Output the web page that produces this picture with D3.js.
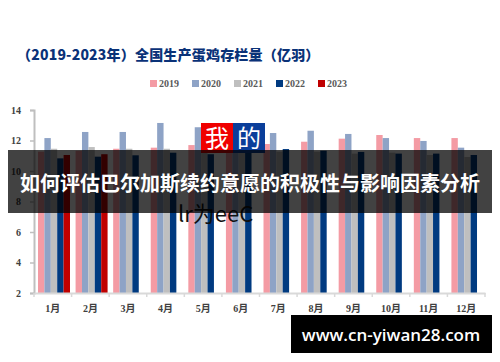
<!DOCTYPE html>
<html>
<head>
<meta charset="utf-8">
<script src="https://cdn.jsdelivr.net/npm/d3@7"></script>
<style>
  body { margin: 0; background: #fff; }
  svg { display: block; }
</style>
</head>
<body>
<div id="chart"></div>
<script>
// chart data
const months = ["1月","2月","3月","4月","5月","6月","7月","8月","9月","10月","11月","12月"];
const years = ["2019","2020","2021","2022","2023"];
const colors = ["#F49BA4","#8EA3C6","#BFBFBF","#003A80","#C00000"];
const v2019 = [11.27,11.33,11.46,11.53,11.70,11.66,11.77,11.92,12.12,12.36,12.16,12.16];
const v2020 = [12.16,12.56,12.56,13.15,12.87,12.55,12.49,12.64,12.43,12.16,11.97,11.53];
const v2021 = [11.46,11.57,11.46,11.46,11.40,11.45,11.27,11.27,11.14,11.20,11.05,10.92];
const v2022 = [10.83,10.94,11.03,11.20,11.10,11.50,11.44,11.33,11.25,11.14,11.14,11.05];
const v2023 = [11.05,11.10,null,null,null,null,null,null,null,null,null,null];
const yTicks = [2,4,6,8,10,12,14];
const series = [v2019, v2020, v2021, v2022, v2023];

const W = 500, H = 362;
const svg = d3.select("#chart").append("svg")
  .attr("width", W).attr("height", H);

const x0 = d3.scaleBand().domain(months).range([34, 485]);
const x1 = d3.scaleBand().domain(years).range([4, 36]);
const y = d3.scaleLinear().domain([2, 14]).range([293, 110]);

// title
svg.append("text")
  .attr("x", 17).attr("y", 60)
  .attr("fill", "#0A3278")
  .style("font-family", "'Noto Sans CJK SC', sans-serif")
  .style("font-weight", 900)
  .style("font-size", "14px")
  .style("letter-spacing", "0.2px")
  .text("（2019-2023年）全国生产蛋鸡存栏量（亿羽）");

// legend
const leg = svg.append("g").attr("transform", "translate(150,84)");
years.forEach(function(yr, i) {
  const g = leg.append("g").attr("transform", `translate(${i * 42},0)`);
  g.append("rect").attr("x", 0).attr("y", -4).attr("width", 7).attr("height", 7)
    .attr("fill", colors[i]);
  g.append("text").attr("x", 9).attr("y", 3)
    .attr("fill", "#595959")
    .style("font-family", "'Liberation Serif', serif")
    .style("font-weight", "bold")
    .style("font-size", "10px")
    .text(yr);
});

// bars
const rows = [];
months.forEach(function(m, i) {
  series.forEach(function(s, j) {
    if (s[i] != null) rows.push({month: m, year: years[j], value: s[i], c: colors[j]});
  });
});
svg.append("g").selectAll("rect")
  .data(rows)
  .join("rect")
    .attr("x", d => x0(d.month) + x1(d.year))
    .attr("y", d => y(d.value))
    .attr("width", x1.bandwidth())
    .attr("height", d => y(2) - y(d.value))
    .attr("fill", d => d.c);

// y axis
const yAxis = svg.append("g")
  .attr("transform", "translate(34,0)")
  .call(d3.axisLeft(y).tickValues(yTicks).tickSize(4).tickPadding(9));
yAxis.select(".domain").attr("stroke", "#BFBFBF").attr("stroke-width", 2);
yAxis.selectAll(".tick line").attr("stroke", "#BFBFBF").attr("stroke-width", 1.5);
yAxis.selectAll(".tick text")
  .attr("fill", "#404040")
  .style("font-family", "'Liberation Serif', serif")
  .style("font-weight", "bold")
  .style("font-size", "10px");

// x axis
const xAxis = svg.append("g")
  .attr("transform", "translate(0,293)")
  .call(d3.axisBottom(x0).tickSize(0).tickPadding(12));
xAxis.select(".domain").attr("stroke", "#D9D9D9").attr("stroke-width", 2);
xAxis.selectAll(".tick text")
  .attr("fill", "#404040")
  .style("font-family", "'Liberation Serif', 'Noto Sans CJK SC', serif")
  .style("font-weight", "bold")
  .style("font-size", "10px");
xAxis.append("g").selectAll("line")
  .data(months.concat(["end"]))
  .join("line")
    .attr("x1", (d, i) => i < months.length ? x0(d) : x0.range()[1])
    .attr("x2", (d, i) => i < months.length ? x0(d) : x0.range()[1])
    .attr("y1", 0).attr("y2", 4)
    .attr("stroke", "#D9D9D9").attr("stroke-width", 1.5);

// overlay stickers
const badge = svg.append("g");
badge.append("rect").attr("x", 201).attr("y", 123).attr("width", 32).attr("height", 30).attr("fill", "#F00000");
badge.append("rect").attr("x", 233).attr("y", 123).attr("width", 32).attr("height", 30).attr("fill", "#0A3E9A");
badge.append("text").attr("x", 217).attr("y", 147).attr("text-anchor", "middle")
  .attr("fill", "#fff").style("font-family", "'Noto Sans CJK SC', serif")
  .style("font-size", "24px").text("我");
badge.append("text").attr("x", 249).attr("y", 147).attr("text-anchor", "middle")
  .attr("fill", "#fff").style("font-family", "'Noto Sans CJK SC', serif")
  .style("font-size", "24px").text("的");

svg.append("text").attr("x", 178).attr("y", 222)
  .attr("fill", "#111")
  .style("font-family", "'Noto Sans CJK SC', sans-serif")
  .style("font-size", "22px")
  .text("lr为eeC");

svg.append("rect")
  .attr("x", 8).attr("y", 150).attr("width", 484).attr("height", 63)
  .attr("fill", "#000").attr("fill-opacity", 0.74);
svg.append("text")
  .attr("x", 250).attr("y", 191)
  .attr("text-anchor", "middle")
  .attr("fill", "#fff")
  .style("font-family", "'Noto Sans CJK SC', sans-serif")
  .style("font-weight", "bold")
  .style("font-size", "20px")
  .text("如何评估巴尔加斯续约意愿的积极性与影响因素分析");

svg.append("rect")
  .attr("x", 291).attr("y", 315).attr("width", 201).attr("height", 38)
  .attr("fill", "#000");
svg.append("text")
  .attr("x", 391).attr("y", 341)
  .attr("text-anchor", "middle")
  .attr("fill", "#fff")
  .style("font-family", "'Open Sans', 'Noto Sans', sans-serif")
  .style("font-weight", 600)
  .style("font-size", "17px")
  .text("www.cn-yiwan28.com");
</script>
</body>
</html>
